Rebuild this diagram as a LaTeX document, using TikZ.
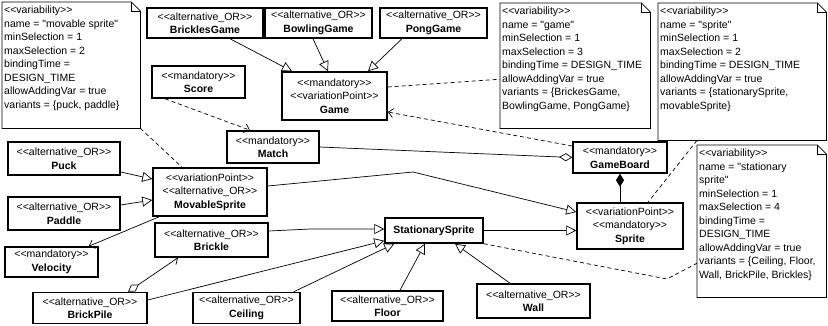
\documentclass[tikz,border=0pt]{standalone}
\usepackage{fontspec}
\setmainfont{Liberation Sans}[Ligatures=TeXOff]
\usetikzlibrary{arrows.meta, calc, positioning}

\newcommand{\stereo}[1]{<<#1>>}

\begin{document}
\begin{tikzpicture}[x=1pt, y=-1pt,
    every node/.style={font=\fontsize{10.5}{13.5}\selectfont},
    box/.style={draw, line width=1.5pt, fill=white, align=center, inner sep=0pt},
    notearea/.style={inner sep=0pt, anchor=north west},
    notetext/.style={align=left, anchor=north west, inner sep=0pt},
    link/.style={line width=0.7pt},
    gen/.style={link, -{Triangle[open, length=10pt, width=10pt]}},
    dep/.style={link, dash pattern=on 4pt off 3pt, -{Straight Barb[length=5pt, width=9pt]}},
    nav/.style={link, -{Straight Barb[length=5pt, width=9pt]}},
    attach/.style={link, dash pattern=on 4pt off 3pt},
  ]
    \useasboundingbox (0,0) rectangle (828,325);

    % Define the notes
    \node[notearea, minimum width=138pt, minimum height=126pt] (nmove) at (2,2) {};
    \node[notearea, minimum width=150pt, minimum height=125pt] (ngame) at (500,3) {};
    \node[notearea, minimum width=168pt, minimum height=137pt] (nsprite) at (658,3) {};
    \node[notearea, minimum width=129pt, minimum height=152pt] (nstat) at (697,145) {};

    % Draw the note outlines with the folded corner
    \foreach \n in {nmove, ngame, nsprite, nstat} {
        \draw[link] (\n.north west) -- ([xshift=-9pt]\n.north east) -- ([yshift=-9pt]\n.north east)
            -- (\n.south east) -- (\n.south west) -- cycle;
        \draw[link] ([xshift=-9pt]\n.north east) -- ([xshift=-9pt, yshift=-9pt]\n.north east)
            -- ([yshift=-9pt]\n.north east);
    }

    % Place the note texts
    \node[notetext] (nmovetxt) at ([xshift=2pt, yshift=-4pt]nmove.north west)
        {\stereo{variability}\\ name = "movable sprite"\\ minSelection = 1\\ maxSelection = 2\\
         bindingTime =\\ DESIGN\_TIME\\ allowAddingVar = true\\ variants = \{puck, paddle\}};
    \node[notetext] (ngametxt) at ([xshift=2pt, yshift=-4pt]ngame.north west)
        {\stereo{variability}\\ name = "game"\\ minSelection = 1\\ maxSelection = 3\\
         bindingTime = DESIGN\_TIME\\ allowAddingVar = true\\ variants = \{BrickesGame,\\
         BowlingGame, PongGame\}};
    \node[notetext] (nspritetxt) at ([xshift=2pt, yshift=-4pt]nsprite.north west)
        {\stereo{variability}\\ name = "sprite"\\ minSelection = 1\\ maxSelection = 2\\
         bindingTime = DESIGN\_TIME\\ allowAddingVar = true\\ variants = \{stationarySprite,\\
         movableSprite\}};
    \node[notetext] (nstattxt) at ([xshift=2pt, yshift=-4pt]nstat.north west)
        {\stereo{variability}\\ name = "stationary\\ sprite"\\ minSelection = 1\\ maxSelection = 4\\
         bindingTime =\\ DESIGN\_TIME\\ allowAddingVar = true\\ variants = \{Ceiling, Floor,\\
         Wall, BrickPile, Brickles\}};

    % Define the classes
    \node[box, minimum width=116pt, minimum height=30pt] (brickles) at (205,23)
        {\stereo{alternative\_OR}\\ \textbf{BricklesGame}};
    \node[box, minimum width=107pt, minimum height=30pt] (bowling) at (318.5,23)
        {\stereo{alternative\_OR}\\ \textbf{BowlingGame}};
    \node[box, minimum width=107pt, minimum height=30pt] (pong) at (433.5,23)
        {\stereo{alternative\_OR}\\ \textbf{PongGame}};
    \node[box, minimum width=93pt, minimum height=32pt] (score) at (198.5,82)
        {\stereo{mandatory}\\ \textbf{Score}};
    \node[box, minimum width=105pt, minimum height=48pt] (game) at (334.5,96)
        {\stereo{mandatory}\\ \stereo{variationPoint}\\ \textbf{Game}};
    \node[box, minimum width=92pt, minimum height=32pt] (match) at (273,147)
        {\stereo{mandatory}\\ \textbf{Match}};
    \node[box, minimum width=94pt, minimum height=31pt] (gameboard) at (620,157.5)
        {\stereo{mandatory}\\ \textbf{GameBoard}};
    \node[box, minimum width=106pt, minimum height=46pt] (sprite) at (630,226)
        {\stereo{variationPoint}\\ \stereo{mandatory}\\ \textbf{Sprite}};
    \node[box, minimum width=98pt, minimum height=25pt] (stationary) at (434,230.5)
        {\textbf{StationarySprite}};
    \node[box, minimum width=112pt, minimum height=33pt] (puck) at (64,158.5)
        {\stereo{alternative\_OR}\\ \textbf{Puck}};
    \node[box, minimum width=112pt, minimum height=33pt] (paddle) at (64,213.5)
        {\stereo{alternative\_OR}\\ \textbf{Paddle}};
    \node[box, minimum width=114pt, minimum height=48pt] (movable) at (210,192)
        {\stereo{variationPoint}\\ \stereo{alternative\_OR}\\ \textbf{MovableSprite}};
    \node[box, minimum width=93pt, minimum height=30pt] (velocity) at (51.5,262)
        {\stereo{mandatory}\\ \textbf{Velocity}};
    \node[box, minimum width=113pt, minimum height=34pt] (brickle) at (211.5,240)
        {\stereo{alternative\_OR}\\ \textbf{Brickle}};
    \node[box, minimum width=114pt, minimum height=31pt] (brickpile) at (90,308)
        {\stereo{alternative\_OR}\\ \textbf{BrickPile}};
    \node[box, minimum width=107pt, minimum height=31pt] (ceiling) at (246.5,308)
        {\stereo{alternative\_OR}\\ \textbf{Ceiling}};
    \node[box, minimum width=111pt, minimum height=30pt] (floor) at (387.5,306)
        {\stereo{alternative\_OR}\\ \textbf{Floor}};
    \node[box, minimum width=113pt, minimum height=34pt] (wall) at (533.5,301)
        {\stereo{alternative\_OR}\\ \textbf{Wall}};

    % Bends of the routed lines
    \coordinate (movebend) at (413,172);
    \coordinate (bricklebend) at (310,229);
    \coordinate (statbend) at (667,279);

    % Draw the generalizations
    \draw[gen] ([xshift=25pt]brickles.south) -- ([xshift=-42.5pt]game.north);
    \draw[gen] ([xshift=-5.5pt]bowling.south) -- ([xshift=-6.5pt]game.north);
    \draw[gen] ([xshift=-31.5pt]pong.south) -- ([xshift=33.5pt]game.north);
    \draw[gen] ([yshift=6pt]movable.east) -- (movebend) -- ([yshift=14pt]sprite.west);
    \draw[gen] (stationary.east) -- ([yshift=-4.5pt]sprite.west);
    \draw[gen] ([yshift=-13.5pt]puck.east) -- ([yshift=13pt]movable.west);
    \draw[gen] ([yshift=8.5pt]paddle.east) -- ([yshift=-8pt]movable.west);
    \draw[gen] ([yshift=9pt]brickle.east) -- (bricklebend) -- ([yshift=1.5pt]stationary.west);
    \draw[gen] ([yshift=8pt]brickpile.east) -- ([yshift=3pt]stationary.south west);
    \draw[gen] ([xshift=-7pt]ceiling.north east) -- ([xshift=10pt]stationary.south west);
    \draw[gen] ([xshift=12.5pt]floor.north) -- ([xshift=-9pt]stationary.south);
    \draw[gen] ([xshift=-23.5pt]wall.north) -- ([xshift=21pt]stationary.south);

    % Draw the dependencies and associations
    \draw[dep] ([xshift=-33.5pt]score.south) -- ([xshift=-23pt]match.north);
    \draw[dep] ([yshift=11.5pt]gameboard.west) -- ([yshift=-16pt]game.east);
    \draw[link, -{Diamond[open, length=13pt, width=8pt]}] (match.east) -- (gameboard.west);
    \draw[link, {Diamond[length=13pt, width=8pt]}-] (gameboard.south) -- ([xshift=-10pt]sprite.north);
    \draw[nav] ([xshift=7pt]movable.south west) -- ([xshift=-10pt]velocity.north east);
    \draw[link, {Diamond[open, length=13pt, width=8pt]}-{Straight Barb[length=5pt, width=9pt]}]
        ([xshift=38pt]brickpile.north) -- ([xshift=-33.5pt]brickle.south);

    % Draw the note attachments
    \draw[attach] (nmove.south east) -- ([xshift=-28pt]movable.north);
    \draw[attach] ([yshift=9pt]game.east) -- ([yshift=-13.5pt]ngame.west);
    \draw[attach] ([xshift=39pt]nsprite.south west) -- ([xshift=18pt]sprite.north);
    \draw[attach] (stationary.south east) -- (statbend) -- ([yshift=-42pt]nstat.west);

\end{tikzpicture}
\end{document}
